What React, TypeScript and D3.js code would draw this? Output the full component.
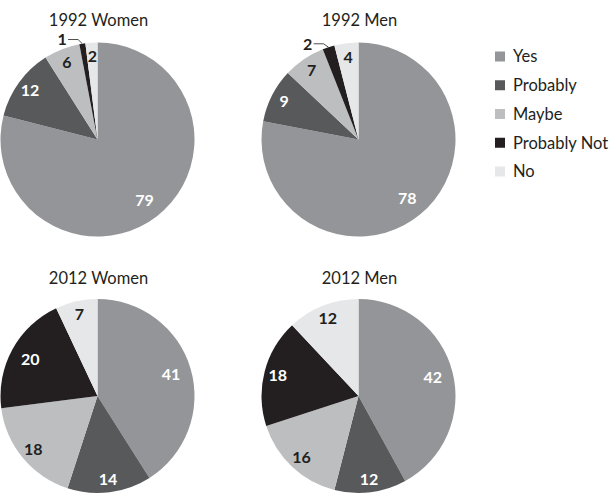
import React from "react";
import * as d3 from "d3";

const categories = ["Yes", "Probably", "Maybe", "Probably Not", "No"];
const panelTitles = ["1992 Women", "1992 Men", "2012 Women", "2012 Men"];
const women1992 = [79, 12, 6, 1, 2];
const men1992 = [78, 9, 7, 2, 4];
const women2012 = [41, 14, 18, 20, 7];
const men2012 = [42, 12, 16, 18, 12];
const seriesList = [women1992, men1992, women2012, men2012];

const colors = ["#939598", "#58595b", "#bcbec0", "#231f20", "#e6e7e8"];
const labelColors = ["#ffffff", "#ffffff", "#231f20", "#ffffff", "#231f20"];

const W = 615;
const H = 494;
const R = 97;
const colX = [97.5, 358.5];
const rowY = [139.5, 396];
const FONT = "Lato, 'Open Sans', sans-serif";

function Pie({ values, title, cx, cy }: { values: number[]; title: string; cx: number; cy: number }) {
  const pie = d3
    .pie<number>()
    .sort(null)
    .value((d) => d)
    .startAngle(0)
    .endAngle(2 * Math.PI);
  const arcs = pie(values);
  const arc = d3.arc<d3.PieArcDatum<number>>().innerRadius(0).outerRadius(R);
  const bigLabelArc = d3.arc<d3.PieArcDatum<number>>().innerRadius(R * 0.79).outerRadius(R * 0.79);
  const smallLabelArc = d3.arc<d3.PieArcDatum<number>>().innerRadius(R * 0.86).outerRadius(R * 0.86);

  return (
    <g transform={`translate(${cx},${cy})`}>
      <text
        x={1}
        y={-R - 17 + (cy > 200 ? 2 : 0)}
        textAnchor="middle"
        fontFamily={FONT}
        fontSize={16.5}
        fill="#231f20"
      >
        {title}
      </text>
      {arcs.map((a, i) => (
        <path key={i} d={arc(a) || ""} fill={colors[i]} />
      ))}
      {arcs.map((a, i) => {
        const outside = categories[i] === "Probably Not" && a.data < 5;
        if (outside) {
          const mid = (a.startAngle + a.endAngle) / 2;
          const px = R * Math.sin(mid);
          const py = -R * Math.cos(mid);
          const ex = 1.05 * R * Math.sin(mid - 0.035);
          const ey = -1.05 * R * Math.cos(mid - 0.035);
          const hx = ex - 10;
          return (
            <g key={"l" + i}>
              <path
                d={`M${px},${py}L${ex},${ey}L${hx},${ey}`}
                fill="none"
                stroke="#231f20"
                strokeWidth={0.8}
              />
              <text
                x={hx - 6}
                y={ey}
                dy="0.36em"
                textAnchor="middle"
                fontFamily={FONT}
                fontWeight={700}
                fontSize={16}
                fill="#231f20"
              >
                {a.data}
              </text>
            </g>
          );
        }
        const [lx, ly] = (a.data >= 20 ? bigLabelArc : smallLabelArc).centroid(a);
        return (
          <text
            key={"l" + i}
            x={lx}
            y={ly}
            dy="0.36em"
            textAnchor="middle"
            fontFamily={FONT}
            fontWeight={700}
            fontSize={16}
            fill={labelColors[i]}
          >
            {a.data}
          </text>
        );
      })}
    </g>
  );
}

export default function App() {
  const legendY = d3.scalePoint<string>().domain(categories).range([56.5, 171.5]);
  return (
    <svg
      width={W}
      height={H}
      viewBox={`0 0 ${W} ${H}`}
      style={{ position: "absolute", left: 0, top: 0, background: "#fff" }}
    >
      <rect width={W} height={H} fill="#fff" />
      {seriesList.map((vals, k) => (
        <Pie
          key={k}
          values={vals}
          title={panelTitles[k]}
          cx={colX[k % 2]}
          cy={rowY[Math.floor(k / 2)]}
        />
      ))}
      <g>
        {categories.map((c, i) => (
          <g key={c} transform={`translate(495,${legendY(c)})`}>
            <rect x={0} y={-5} width={10} height={10} fill={colors[i]} />
            <text x={18} y={0} dy="0.36em" fontFamily={FONT} fontSize={16.5} fill="#231f20">
              {c}
            </text>
          </g>
        ))}
      </g>
    </svg>
  );
}
